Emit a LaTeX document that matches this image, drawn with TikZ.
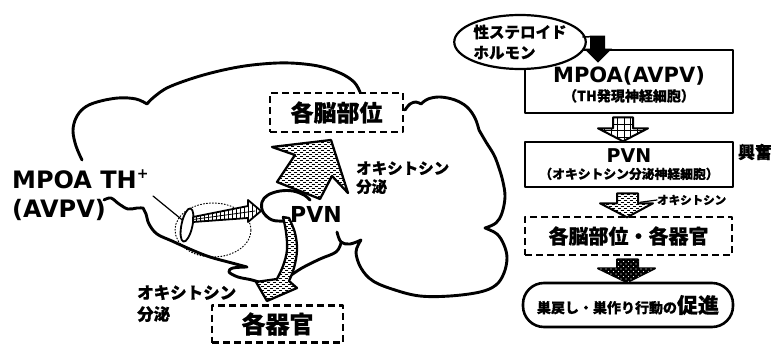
\documentclass[tikz,border=0pt]{standalone}
\usepackage{fontspec}
\usetikzlibrary{patterns,shapes.geometric,calc}
\newfontfamily\jp{Noto Sans CJK JP}[BoldFeatures={FakeBold=0.6}]
\newfontfamily\lat{DejaVu Sans}

% fill patterns for the block arrows
\pgfdeclarepatternformonly{hdash}{\pgfqpoint{-1pt}{-1pt}}{\pgfqpoint{7pt}{5pt}}{\pgfqpoint{6pt}{4pt}}{%
  \pgfsetlinewidth{0.7pt}%
  \pgfpathmoveto{\pgfqpoint{0.3pt}{0.5pt}}\pgfpathlineto{\pgfqpoint{2.8pt}{0.5pt}}%
  \pgfpathmoveto{\pgfqpoint{3.3pt}{2.5pt}}\pgfpathlineto{\pgfqpoint{5.8pt}{2.5pt}}%
  \pgfusepath{stroke}}
\pgfdeclarepatternformonly{cellgrid}{\pgfqpoint{-1pt}{-1pt}}{\pgfqpoint{7pt}{7pt}}{\pgfqpoint{6.5pt}{6.5pt}}{%
  \pgfsetlinewidth{0.8pt}%
  \pgfpathmoveto{\pgfqpoint{0pt}{0pt}}\pgfpathlineto{\pgfqpoint{6.5pt}{0pt}}%
  \pgfpathmoveto{\pgfqpoint{0pt}{0pt}}\pgfpathlineto{\pgfqpoint{0pt}{6.5pt}}%
  \pgfusepath{stroke}}
\pgfdeclarepatternformonly{vstripe}{\pgfqpoint{-1pt}{-1pt}}{\pgfqpoint{5pt}{5pt}}{\pgfqpoint{4pt}{4pt}}{%
  \pgfsetlinewidth{0.7pt}%
  \pgfpathmoveto{\pgfqpoint{0pt}{0pt}}\pgfpathlineto{\pgfqpoint{0pt}{4pt}}%
  \pgfusepath{stroke}}
\pgfdeclarepatternformonly{wspots}{\pgfqpoint{-1pt}{-1pt}}{\pgfqpoint{6pt}{6pt}}{\pgfqpoint{5pt}{5pt}}{%
  \pgfpathcircle{\pgfqpoint{1pt}{1pt}}{0.6pt}%
  \pgfpathcircle{\pgfqpoint{3.5pt}{3.5pt}}{0.6pt}%
  \pgfusepath{fill}}

\begin{document}
\begin{tikzpicture}[x=1pt,y=-1pt,line join=round,line cap=round,
  outline/.style={line width=2.9pt},
  arrowline/.style={line width=2.3pt},
  dashbox/.style={draw,line width=2.6pt,dash pattern=on 7pt off 4pt,line cap=butt,inner sep=0pt},
  solidbox/.style={draw,line width=2.6pt,fill=white,inner sep=0pt,align=center},
  dashfill/.style={arrowline,preaction={fill=white},pattern=hdash},
  gridfill/.style={line width=2pt,preaction={fill=white},pattern=cellgrid},
  spotfill/.style={line width=2pt,fill=black,postaction={pattern=wspots,pattern color=white}},
  jpfont/.style={font=\jp\bfseries\fontsize{#1}{#1}\selectfont},
  latfont/.style={font=\lat\bfseries\fontsize{#1}{#1}\selectfont}]
\useasboundingbox (0,0) rectangle (771,345);
\fill[white] (0,0) rectangle (771,345);

% ---------- brain outline ----------
\draw[outline] plot[smooth,tension=0.6] coordinates {(82,160) (76,146) (73,131) (76,118) (84,108) (97,102) (118,98) (136,99) (147,104)}
  -- plot[smooth,tension=0.6] coordinates {(147,104) (154,97) (169,87) (200,76) (233,68) (262,64) (290,63) (318,66) (340,73) (354,82) (360,92)};
\draw[outline] plot[smooth,tension=0.6] coordinates {(405,110) (410,104) (416,102) (421,104)}
  -- plot[smooth,tension=0.6] coordinates {(421,104) (428,99) (440,97) (455,100) (467,107) (475,118) (479,130)}
  -- plot[smooth,tension=0.6] coordinates {(479,130) (486,142) (494,155) (499,168) (503,182) (505,197) (502,213) (496,223) (485,228)}
  -- plot[smooth,tension=0.6] coordinates {(485,228) (497,234) (504,245) (507,258) (504,273) (496,285) (480,292) (450,296) (420,296) (395,290) (373,281) (361,268) (356,252) (361,240)}
  -- plot[smooth,tension=0.6] coordinates {(361,240) (350,244) (341,242) (337,232)};
\draw[outline] plot[smooth,tension=0.6] coordinates {(287,278) (302,268) (320,259) (336,252) (341,243)};
\draw[outline] plot[smooth,tension=0.6] coordinates {(104,200) (111,198) (119,204) (128,209) (137,208) (143,208)}
  -- plot[smooth,tension=0.6] coordinates {(143,208) (146,214) (149,224) (157,234) (172,241) (192,250) (210,257) (232,263) (247,267)}
  -- plot[smooth,tension=0.6] coordinates {(247,267) (233,268) (229,272) (238,277) (252,280) (268,285)};

% ---------- PVN region and its projections ----------
\draw[outline] plot[smooth,tension=0.6] coordinates {(284,221) (272,220) (263,212) (262,202) (268,195) (280,191) (293,191) (304,195) (310,200)};
\draw[dotted,line width=1pt] (213,230) ellipse[x radius=38pt,y radius=27pt];
\draw[line width=1.2pt] (153,196) -- (186,223);
\draw[line width=1.8pt,fill=white,rotate around={-12:(187,225)}] (187,225) ellipse[x radius=5.5pt,y radius=17pt];
\draw[line width=1.8pt,preaction={fill=white},pattern=vstripe] (193,217) -- (248,206) -- (248,200) -- (261,211) -- (248,222) -- (248,218) -- (193,222) -- cycle;
\draw[line width=0.8pt] (193,219.5) -- (255,211);
\draw[dashfill] (277,182) -- (295,155) -- (272,147) -- (331,140) -- (348,193) -- (332,176) -- (320,199) .. controls (308,194) and (292,188) .. cycle;
\draw[dashfill] plot[smooth,tension=0.6] coordinates {(283,217) (286,232) (287,250) (283,266) (277,279)} -- (256,282) -- (267,301) -- (297,288)
  -- plot[smooth,tension=0.6] coordinates {(289,281) (294,268) (297,250) (295,233) (289,218)} -- cycle;

% ---------- labels on the brain ----------
\node[latfont=24,align=left,anchor=west,inner sep=0pt] (mpoath) at (12,195)
  {MPOA TH\raisebox{0.42em}{\fontsize{14}{14}\selectfont +}\\[5pt](AVPV)};
\node[latfont=22,inner sep=0pt] (pvnlabel) at (316,214) {PVN};
\node[dashbox,jpfont=23,minimum width=133pt,minimum height=39pt] (regions) at (336.5,112.5) {各脳部位};
\node[dashbox,jpfont=24,minimum width=131pt,minimum height=37pt] (organs) at (277.5,324) {各器官};
\node[jpfont=15.5,align=left,anchor=north west,inner sep=0pt] (oxyup) at (356,161) {オキシトシン\\[3pt]分泌};
\node[jpfont=16.5,align=left,anchor=north west,inner sep=0pt] (oxydown) at (137,285) {オキシトシン\\[5pt]分泌};

% ---------- flow chart ----------
\node[solidbox,minimum width=208pt,minimum height=63pt] (mpoa) at (629,81.5)
  {\rule{0pt}{22pt}{\lat\bfseries\fontsize{21}{21}\selectfont MPOA(AVPV)}\\[3pt]{\jp\bfseries\fontsize{14}{14}\selectfont （TH発現神経細胞）}};
\node[ellipse,draw,line width=2.2pt,fill=white,minimum width=124pt,minimum height=54pt,inner sep=0pt,
  jpfont=15.5,align=left] (hormone) at (520,42) {性ステロイド\\[5pt]ホルモン};
\fill ($(mpoa.north)+(-39,-13)$) -- ++(15,0) -- ++(0,13) -- ++(7,0) -- ++(-14,14) -- ++(-14,-14) -- ++(6,0) -- cycle;
\draw[line width=1.5pt] ($(hormone.east)+(-4,-5)$) -- ($(mpoa.north)+(-39,-12)$);

\node[solidbox,minimum width=208pt,minimum height=45pt] (pvn) at (629,164.5)
  {{\lat\bfseries\fontsize{19}{19}\selectfont PVN}\\[4pt]{\jp\bfseries\fontsize{12.8}{12.8}\selectfont （オキシトシン分泌神経細胞）}};
\node[jpfont=17,inner sep=0pt] (excite) at (755,152) {興奮};
\draw[gridfill] ($(mpoa.south)+(-16,3)$) -- ++(20,0) -- ++(0,11) -- ++(15,0) -- ++(-25,13) -- ++(-25,-13) -- ++(15,0) -- cycle;

\node[dashbox,jpfont=20,minimum width=207pt,minimum height=38pt] (targets) at (628.5,236) {各脳部位・各器官};
\draw[dashfill,line width=2pt] ($(pvn.south)+(-12,5)$) -- ++(21,0) -- ++(0,10) -- ++(15,0) -- ++(-26,14) -- ++(-27,-14) -- ++(17,0) -- cycle;
\node[jpfont=11.5,anchor=west,inner sep=0pt] (oxylabel) at (657,200) {オキシトシン};
\draw[line width=1.2pt] ($(pvn.south)+(11,14)$) -- (oxylabel.west);

\node[solidbox,rounded corners=21pt,minimum width=210pt,minimum height=44pt,font=\jp\bfseries] (behavior) at (628,305)
  {{\fontsize{14}{14}\selectfont 巣戻し・巣作り行動の}{\fontsize{21}{21}\selectfont 促進}};
\draw[spotfill] ($(targets.south)+(-11.5,3)$) -- ++(21,0) -- ++(0,9) -- ++(17,0) -- ++(-28,14) -- ++(-29,-14) -- ++(19,0) -- cycle;
\end{tikzpicture}
\end{document}
